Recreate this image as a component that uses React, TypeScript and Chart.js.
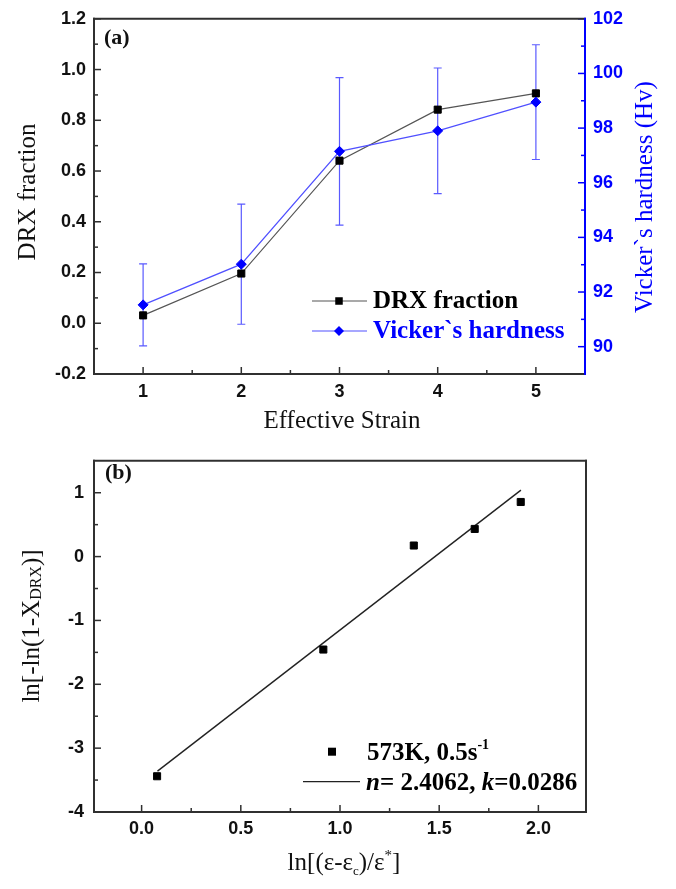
import React, { useEffect, useRef } from 'react';
import { Chart, registerables } from 'chart.js';

Chart.register(...registerables);

// ---------- Panel (a) data ----------
const effectiveStrain = [1, 2, 3, 4, 5];
const drxFraction = [0.031, 0.196, 0.641, 0.842, 0.906];
const vickersHardness = [91.53, 93.02, 97.15, 97.9, 98.95];
const vickersError = [1.5, 2.2, 2.7, 2.3, 2.1];
const aXTicks = [1, 2, 3, 4, 5];
const aXMinor = [1.5, 2.5, 3.5, 4.5];
const aLeftTicks = [-0.2, 0, 0.2, 0.4, 0.6, 0.8, 1.0, 1.2];
const aLeftMinor = [-0.1, 0.1, 0.3, 0.5, 0.7, 0.9, 1.1];
const aRightTicks = [90, 92, 94, 96, 98, 100, 102];
const aRightMinor = [91, 93, 95, 97, 99, 101];

// ---------- Panel (b) data ----------
const lnStrainRatio = [0.078, 0.916, 1.372, 1.679, 1.911];
const lnDrxTerm = [-3.44, -1.456, 0.173, 0.433, 0.855];
const fitLineX = [0.08, 1.912];
const fitLineY = [-3.36, 1.04];
const bXTicks = [0, 0.5, 1.0, 1.5, 2.0];
const bXMinor = [0.25, 0.75, 1.25, 1.75];
const bYTicks = [-4, -3, -2, -1, 0, 1];
const bYMinor = [-3.5, -2.5, -1.5, -0.5, 0.5];

const SERIF = '"Liberation Serif", "Times New Roman", serif';
const SANS = '"Liberation Sans", Arial, sans-serif';
const BLUE = '#0000ff';
const AXIS = '#303030';

Chart.defaults.font.family = SANS;

const fixedTicks = (values: number[]) => (scale: any) => {
  scale.ticks = values.map((v) => ({ value: v }));
};

type TickSet = { scaleId: string; side: 'left' | 'right' | 'bottom'; major: number[]; minor: number[]; color: string };

function framePlugin(sides: { top: string; right: string; bottom: string; left: string }, sets: TickSet[]) {
  return {
    id: 'frame',
    afterDraw(chart: any) {
      const { ctx, chartArea: a } = chart;
      ctx.save();
      const line = (x1: number, y1: number, x2: number, y2: number, c: string) => {
        ctx.strokeStyle = c;
        ctx.beginPath();
        ctx.moveTo(x1, y1);
        ctx.lineTo(x2, y2);
        ctx.stroke();
      };
      ctx.lineWidth = 1.5;
      ctx.lineCap = 'butt';
      for (const s of sets) {
        const sc = chart.scales[s.scaleId];
        const draw = (v: number, len: number) => {
          const p = sc.getPixelForValue(v);
          if (s.side === 'left') line(a.left, p, a.left + len, p, s.color);
          else if (s.side === 'right') line(a.right, p, a.right - len, p, s.color);
          else line(p, a.bottom, p, a.bottom - len, s.color);
        };
        s.major.forEach((v) => draw(v, 7));
        s.minor.forEach((v) => draw(v, 4));
      }
      ctx.lineWidth = 2;
      ctx.lineCap = 'square';
      line(a.left, a.top, a.right, a.top, sides.top);
      line(a.left, a.bottom, a.right, a.bottom, sides.bottom);
      line(a.left, a.top, a.left, a.bottom, sides.left);
      line(a.right, a.top, a.right, a.bottom, sides.right);
      ctx.restore();
    },
  };
}

type Run = { text: string; font: string; dy?: number; color?: string };

function drawRuns(ctx: CanvasRenderingContext2D, runs: Run[], x: number, y: number, align: 'left' | 'center', color: string) {
  let total = 0;
  runs.forEach((r) => {
    ctx.font = r.font;
    total += ctx.measureText(r.text).width;
  });
  let cx = align === 'center' ? x - total / 2 : x;
  ctx.textAlign = 'left';
  ctx.textBaseline = 'alphabetic';
  runs.forEach((r) => {
    ctx.font = r.font;
    ctx.fillStyle = r.color || color;
    ctx.fillText(r.text, cx, y + (r.dy || 0));
    cx += ctx.measureText(r.text).width;
  });
}

function drawRotated(ctx: CanvasRenderingContext2D, runs: Run[], x: number, y: number, color: string) {
  ctx.save();
  ctx.translate(x, y);
  ctx.rotate(-Math.PI / 2);
  drawRuns(ctx, runs, 0, 0, 'center', color);
  ctx.restore();
}

function drawSquare(ctx: CanvasRenderingContext2D, x: number, y: number, side: number, color: string) {
  ctx.fillStyle = color;
  ctx.fillRect(x - side / 2, y - side / 2, side, side);
}

function drawDiamond(ctx: CanvasRenderingContext2D, x: number, y: number, r: number, color: string) {
  ctx.fillStyle = color;
  ctx.beginPath();
  ctx.moveTo(x, y - r);
  ctx.lineTo(x + r, y);
  ctx.lineTo(x, y + r);
  ctx.lineTo(x - r, y);
  ctx.closePath();
  ctx.fill();
}

const errorBarPlugin = {
  id: 'errorBars',
  beforeDatasetsDraw(chart: any) {
    const { ctx } = chart;
    const xs = chart.scales.x;
    const ys = chart.scales.y1;
    ctx.save();
    ctx.strokeStyle = '#5a5aff';
    ctx.lineWidth = 1.2;
    effectiveStrain.forEach((sx, i) => {
      const px = xs.getPixelForValue(sx);
      const top = ys.getPixelForValue(vickersHardness[i] + vickersError[i]);
      const bot = ys.getPixelForValue(vickersHardness[i] - vickersError[i]);
      ctx.beginPath();
      ctx.moveTo(px, top);
      ctx.lineTo(px, bot);
      ctx.moveTo(px - 4, top);
      ctx.lineTo(px + 4, top);
      ctx.moveTo(px - 4, bot);
      ctx.lineTo(px + 4, bot);
      ctx.stroke();
    });
    ctx.restore();
  },
};

const textA = {
  id: 'textA',
  afterDraw(chart: any) {
    const { ctx } = chart;
    ctx.save();
    drawRuns(ctx, [{ text: '(a)', font: `bold 22px ${SERIF}` }], 104, 44, 'left', '#111');
    drawRotated(ctx, [{ text: 'DRX fraction', font: `25px ${SERIF}` }], 35, 192, '#111');
    drawRotated(ctx, [{ text: 'Vicker`s hardness (Hv)', font: `25px ${SERIF}` }], 652, 197, BLUE);
    drawRuns(ctx, [{ text: 'Effective Strain', font: `25px ${SERIF}` }], 342, 428, 'center', '#111');
    // legend
    ctx.lineWidth = 1.2;
    ctx.strokeStyle = '#555';
    ctx.beginPath();
    ctx.moveTo(312, 301);
    ctx.lineTo(367, 301);
    ctx.stroke();
    drawSquare(ctx, 339, 301, 7.5, '#000');
    drawRuns(ctx, [{ text: 'DRX fraction', font: `bold 25px ${SERIF}` }], 373, 308, 'left', '#000');
    ctx.strokeStyle = '#5050ff';
    ctx.beginPath();
    ctx.moveTo(312, 331);
    ctx.lineTo(367, 331);
    ctx.stroke();
    drawDiamond(ctx, 339, 331, 5, BLUE);
    drawRuns(ctx, [{ text: 'Vicker`s hardness', font: `bold 25px ${SERIF}` }], 373, 338, 'left', BLUE);
    ctx.restore();
  },
};

const textB = {
  id: 'textB',
  afterDraw(chart: any) {
    const { ctx } = chart;
    ctx.save();
    drawRuns(ctx, [{ text: '(b)', font: `bold 22px ${SERIF}` }], 105, 39, 'left', '#111');
    const reg = `25px ${SERIF}`;
    const small = `16px ${SERIF}`;
    drawRotated(
      ctx,
      [
        { text: 'ln[-ln(1-X', font: reg },
        { text: 'DRX', font: small, dy: 2 },
        { text: ')]', font: reg },
      ],
      39,
      186,
      '#111'
    );
    drawRuns(
      ctx,
      [
        { text: 'ln[(ε-ε', font: reg },
        { text: 'c', font: `13px ${SERIF}`, dy: 5 },
        { text: ')/ε', font: reg },
        { text: '*', font: `15px ${SERIF}`, dy: -10 },
        { text: ']', font: reg },
      ],
      344,
      430,
      'center',
      '#111'
    );
    // legend
    drawSquare(ctx, 332, 311.7, 8, '#000');
    const bold = `bold 25px ${SERIF}`;
    drawRuns(
      ctx,
      [
        { text: '573K, 0.5s', font: bold },
        { text: '-1', font: `bold 14px ${SERIF}`, dy: -11 },
      ],
      367,
      320,
      'left',
      '#000'
    );
    ctx.strokeStyle = '#222';
    ctx.lineWidth = 1.3;
    ctx.beginPath();
    ctx.moveTo(303, 341.7);
    ctx.lineTo(360, 341.7);
    ctx.stroke();
    const bi = `italic bold 25px ${SERIF}`;
    drawRuns(
      ctx,
      [
        { text: 'n', font: bi },
        { text: '= 2.4062, ', font: bold },
        { text: 'k', font: bi },
        { text: '=0.0286', font: bold },
      ],
      366,
      350,
      'left',
      '#000'
    );
    ctx.restore();
  },
};

const tickFont = { family: SANS, size: 18, weight: 'bold' as const };

const commonScale = (extra: any) => ({
  type: 'linear',
  grid: { display: false, drawTicks: false },
  border: { display: false },
  ...extra,
});

export default function App() {
  const topRef = useRef<HTMLCanvasElement>(null);
  const botRef = useRef<HTMLCanvasElement>(null);

  useEffect(() => {
    const chartA = new Chart(topRef.current as HTMLCanvasElement, {
      type: 'scatter',
      data: {
        datasets: [
          {
            label: 'DRX fraction',
            data: effectiveStrain.map((x, i) => ({ x, y: drxFraction[i] })),
            yAxisID: 'y',
            showLine: true,
            borderColor: '#555',
            borderWidth: 1.2,
            pointStyle: 'rect',
            pointRadius: 5,
            pointBackgroundColor: '#000',
            pointBorderColor: '#000',
            pointBorderWidth: 1,
            order: 2,
          },
          {
            label: 'Vicker`s hardness',
            data: effectiveStrain.map((x, i) => ({ x, y: vickersHardness[i] })),
            yAxisID: 'y1',
            showLine: true,
            borderColor: '#5050ff',
            borderWidth: 1.2,
            pointStyle: 'rectRot',
            pointRadius: 5,
            pointBackgroundColor: BLUE,
            pointBorderColor: BLUE,
            pointBorderWidth: 1,
            order: 1,
          },
        ],
      },
      options: {
        animation: false,
        responsive: false,
        devicePixelRatio: 1,
        layout: { padding: { top: 16, left: 0, right: 0, bottom: 0 } },
        plugins: { legend: { display: false }, tooltip: { enabled: false } },
        scales: {
          x: commonScale({
            position: 'bottom',
            min: 0.5,
            max: 5.5,
            afterBuildTicks: fixedTicks(aXTicks),
            afterFit: (s: any) => {
              s.height = 66;
            },
            ticks: { font: tickFont, color: '#111', padding: 7, autoSkip: false, maxRotation: 0, callback: (v: any) => String(v) },
          }),
          y: commonScale({
            position: 'left',
            min: -0.2,
            max: 1.2,
            afterBuildTicks: fixedTicks(aLeftTicks),
            afterFit: (s: any) => {
              s.width = 94;
            },
            ticks: { font: tickFont, color: '#111', padding: 8, autoSkip: false, callback: (v: any) => Number(v).toFixed(1) },
          }),
          y1: commonScale({
            position: 'right',
            min: 89,
            max: 102,
            afterBuildTicks: fixedTicks(aRightTicks),
            afterFit: (s: any) => {
              s.width = 91;
            },
            ticks: { font: tickFont, color: BLUE, padding: 8, autoSkip: false, callback: (v: any) => String(v) },
          }),
        },
      } as any,
      plugins: [
        errorBarPlugin,
        framePlugin({ top: AXIS, right: BLUE, bottom: AXIS, left: AXIS }, [
          { scaleId: 'y', side: 'left', major: aLeftTicks, minor: aLeftMinor, color: AXIS },
          { scaleId: 'x', side: 'bottom', major: aXTicks, minor: aXMinor, color: AXIS },
          { scaleId: 'y1', side: 'right', major: aRightTicks, minor: aRightMinor, color: BLUE },
        ]),
        textA,
      ],
    });

    const chartB = new Chart(botRef.current as HTMLCanvasElement, {
      type: 'scatter',
      data: {
        datasets: [
          {
            label: '573K, 0.5s-1',
            data: lnStrainRatio.map((x, i) => ({ x, y: lnDrxTerm[i] })),
            showLine: false,
            pointStyle: 'rect',
            pointRadius: 5,
            pointBackgroundColor: '#000',
            pointBorderColor: '#000',
            pointBorderWidth: 1,
          },
          {
            label: 'fit',
            data: fitLineX.map((x, i) => ({ x, y: fitLineY[i] })),
            showLine: true,
            borderColor: '#222',
            borderWidth: 1.4,
            pointRadius: 0,
          },
        ],
      },
      options: {
        animation: false,
        responsive: false,
        devicePixelRatio: 1,
        layout: { padding: { top: 12, left: 0, right: 90, bottom: 0 } },
        plugins: { legend: { display: false }, tooltip: { enabled: false } },
        scales: {
          x: commonScale({
            position: 'bottom',
            min: -0.24,
            max: 2.24,
            afterBuildTicks: fixedTicks(bXTicks),
            afterFit: (s: any) => {
              s.height = 77;
            },
            ticks: { font: tickFont, color: '#111', padding: 6, autoSkip: false, maxRotation: 0, callback: (v: any) => Number(v).toFixed(1) },
          }),
          y: commonScale({
            position: 'left',
            min: -4,
            max: 1.5,
            afterBuildTicks: fixedTicks(bYTicks),
            afterFit: (s: any) => {
              s.width = 94;
            },
            ticks: { font: tickFont, color: '#111', padding: 10, autoSkip: false, callback: (v: any) => String(v) },
          }),
        },
      } as any,
      plugins: [
        framePlugin({ top: AXIS, right: AXIS, bottom: AXIS, left: AXIS }, [
          { scaleId: 'y', side: 'left', major: bYTicks, minor: bYMinor, color: AXIS },
          { scaleId: 'x', side: 'bottom', major: bXTicks, minor: bXMinor, color: AXIS },
        ]),
        textB,
      ],
    });

    return () => {
      chartA.destroy();
      chartB.destroy();
    };
  }, []);

  return (
    <div style={{ position: 'absolute', left: 0, top: 0, width: 676, height: 889, background: '#fff' }}>
      <canvas ref={topRef} width={676} height={440} style={{ display: 'block' }} />
      <canvas ref={botRef} width={676} height={449} style={{ display: 'block' }} />
    </div>
  );
}
